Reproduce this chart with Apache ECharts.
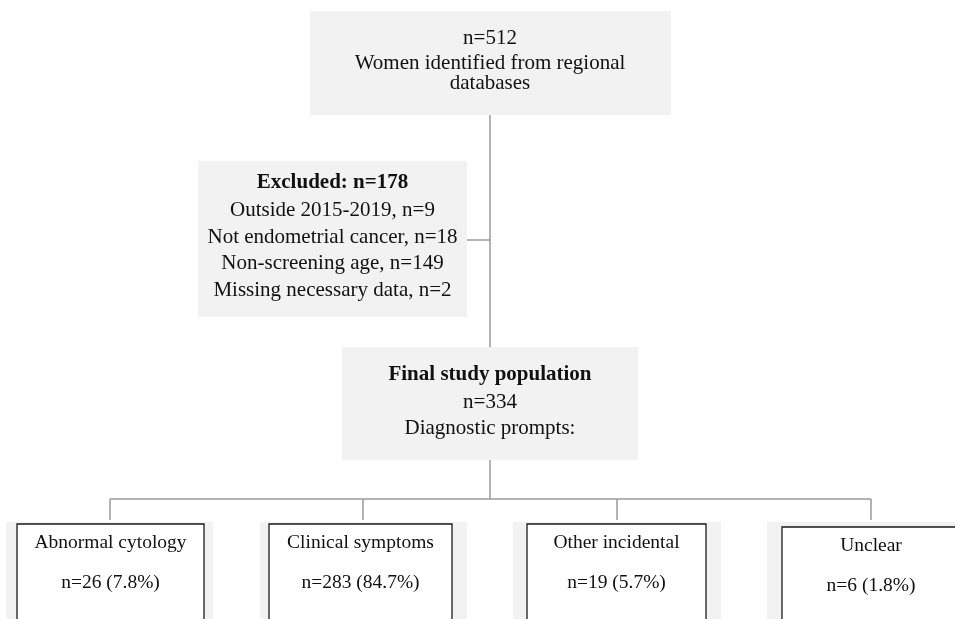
<!DOCTYPE html>
<html>
<head>
<meta charset="utf-8">
<script src="https://cdn.jsdelivr.net/npm/echarts@6/dist/echarts.min.js"></script>
<style>
html,body{margin:0;padding:0;background:#fff;}
#chart{width:955px;height:619px;}
</style>
</head>
<body>
<div id="chart"></div>
<script>
// ---- Content (data) ----
const topLines = ['n=512', 'Women identified from regional', 'databases'];
const excludedTitle = 'Excluded: n=178';
const excludedLines = ['Outside 2015-2019, n=9', 'Not endometrial cancer, n=18', 'Non-screening age, n=149', 'Missing necessary data, n=2'];
const finalTitle = 'Final study population';
const finalLines = ['n=334', 'Diagnostic prompts:'];
const branchLabels = ['Abnormal cytology', 'Clinical symptoms', 'Other incidental', 'Unclear'];
const branchCounts = [26, 283, 19, 6];
const branchPcts = [7.8, 84.7, 5.7, 1.8];

// ---- Layout (positions / styles) ----
const FONT = '"Liberation Serif","Times New Roman",Times,serif';
const GRAY = '#f2f2f2';
const LINE = '#9a9a9a';
const topBox = {x: 310, y: 11, w: 361, h: 104};
const topLineY = [38, 63, 83];
const exBox = {x: 198, y: 161, w: 269, h: 156};
const exLineY = [183, 210, 237, 263, 290];
const finBox = {x: 342, y: 347, w: 296, h: 113};
const finLineY = [375, 402, 428];
const cx = 490;
const branchY = 499;
const dropX = [110, 363, 617, 871];
const grayBoxes = [[6, 522, 207], [260, 522, 207], [513, 522, 208], [767, 522, 200]];
const blackBoxes = [[17, 524, 187], [269, 524, 183], [527, 524, 179], [782, 527, 180]];
const labelY = [543, 543, 543, 546];
const countY = [583, 583, 583, 586];

const els = [];
function rect(b, fill, stroke, lw) {
  els.push({type: 'rect', shape: {x: b.x, y: b.y, width: b.w, height: b.h},
    style: {fill: fill, stroke: stroke || null, lineWidth: lw || 0}, silent: true});
}
function line(x1, y1, x2, y2) {
  els.push({type: 'line', shape: {x1, y1, x2, y2}, style: {stroke: LINE, lineWidth: 1.5}, silent: true});
}
function text(str, x, y, size, bold) {
  els.push({type: 'text', x: x, y: y, style: {text: str, fontFamily: FONT, fontSize: size,
    fontWeight: bold ? 'bold' : 'normal', fill: '#111', align: 'center', verticalAlign: 'middle'}, silent: true});
}

// connectors
line(cx, topBox.y + topBox.h, cx, finBox.y);
line(exBox.x + exBox.w, 240, cx, 240);
line(cx, finBox.y + finBox.h, cx, branchY);
line(dropX[0], branchY, dropX[dropX.length - 1], branchY);
dropX.forEach(x => line(x, branchY, x, 520));

// top box
rect(topBox, GRAY);
topLines.forEach((t, i) => text(t, cx, topLineY[i], 21));

// excluded box
rect(exBox, GRAY);
const exCx = exBox.x + exBox.w / 2;
text(excludedTitle, exCx, exLineY[0], 21, true);
excludedLines.forEach((t, i) => text(t, exCx, exLineY[i + 1], 21));

// final box
rect(finBox, GRAY);
text(finalTitle, cx, finLineY[0], 21, true);
finalLines.forEach((t, i) => text(t, cx, finLineY[i + 1], 21));

// branch boxes
branchLabels.forEach((lab, i) => {
  const g = grayBoxes[i], b = blackBoxes[i];
  rect({x: g[0], y: g[1], w: g[2], h: 140}, GRAY);
  rect({x: b[0], y: b[1], w: b[2], h: 140}, '#fff', '#1a1a1a', 1.3);
  const mx = b[0] + b[2] / 2;
  const bx = i === 3 ? 871 : mx;
  text(lab, bx, labelY[i], 19.5);
  text('n=' + branchCounts[i] + ' (' + branchPcts[i].toFixed(1) + '%)', bx, countY[i], 19.5);
});

const chart = echarts.init(document.getElementById('chart'), null, {renderer: 'canvas'});
chart.setOption({backgroundColor: '#fff', animation: false, graphic: {elements: els}});
</script>
</body>
</html>
